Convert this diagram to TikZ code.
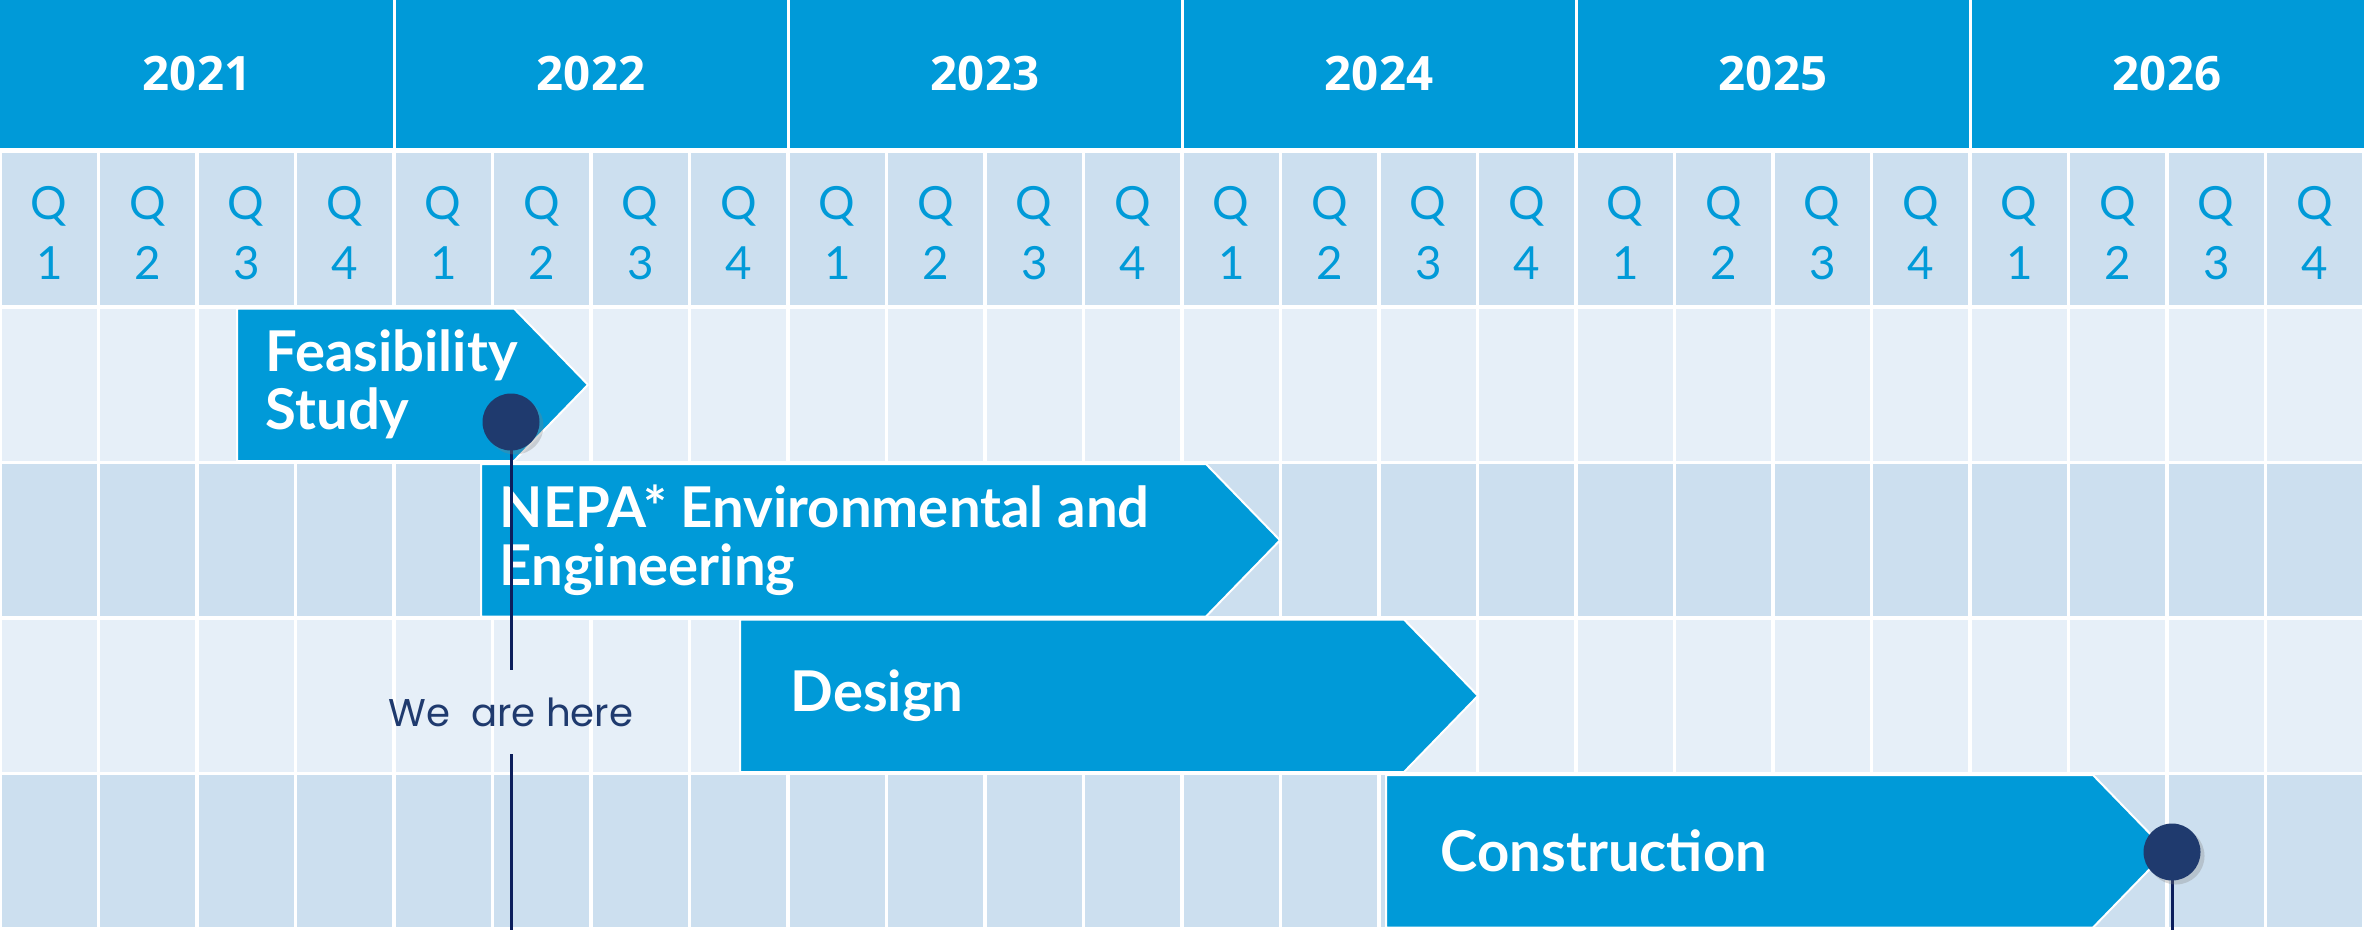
\documentclass[tikz,border=0pt]{standalone}
\usepackage{fontspec}
\setmainfont{Lato}
\newfontfamily\yearfont{Open Sans}
\newfontfamily\herefont{Poppins}
\usetikzlibrary{calc,shadows,positioning}

\definecolor{hdrblue}{RGB}{0,154,216}
\definecolor{qcell}{RGB}{204,223,239}
\definecolor{lightcell}{RGB}{230,239,248}
\definecolor{navy}{RGB}{31,58,110}
\definecolor{pinnavy}{RGB}{12,30,92}

\tikzset{
  cell/.style={draw=white,line width=0.035cm},
  bar/.style={fill=hdrblue,draw=white,line width=0.02cm},
  bartext/.style={text=white,anchor=west,align=left,inner sep=0pt,
    font=\fontsize{16}{16.5}\selectfont\bfseries},
  yeartext/.style={text=white,font=\yearfont\fontsize{13.5}{16}\selectfont\bfseries},
  qtext/.style={text=hdrblue,align=center,font=\fontsize{13}{17}\selectfont},
  pin/.style={circle,fill=navy,minimum size=0.57cm,inner sep=0pt,
    drop shadow={shadow xshift=0.04cm,shadow yshift=-0.04cm,opacity=0.3}},
  pinline/.style={draw=pinnavy,line width=0.03cm},
}

\begin{document}
\begin{tikzpicture}[line join=round]
\useasboundingbox (0,0) rectangle (23.64,-9.29);
\clip (0,0) rectangle (23.64,-9.29);
% year band
\fill[hdrblue] (0,0) rectangle (23.64,-1.48);
\foreach \y [count=\i from 0] in {2021,2022,2023,2024,2025,2026}{
  \node[yeartext] (y\y) at ({(\i+0.5)*3.94},-0.74) {\y};
  \ifnum\i>0 \draw[white,line width=0.03cm] (\i*3.94,0) -- (\i*3.94,-1.48); \fi
}
% quarter cells and rows
\foreach \q in {0,...,23}{
  \draw[cell,fill=qcell] (\q*0.985,-1.515) rectangle ++(0.985,-1.555);
  \pgfmathtruncatemacro{\n}{mod(\q,4)+1}
  \node[qtext] (q\q) at ({(\q+0.5)*0.985},-2.33) {Q\\\n};
  \foreach \r/\c in {1/lightcell,2/qcell,3/lightcell,4/qcell}
    \draw[cell,fill=\c] (\q*0.985,{-3.07-(\r-1)*1.555}) rectangle ++(0.985,-1.555);
}
% bars
\foreach \l/\e/\t/\r in {2.37/5.14/5.88/1,4.81/12.06/12.80/2,7.40/14.04/14.78/3,13.86/20.93/21.67/4}{
  \pgfmathsetmacro{\top}{-3.07-(\r-1)*1.555-0.015}
  \pgfmathsetmacro{\bot}{\top-1.525}
  \pgfmathsetmacro{\mid}{(\top+\bot)/2}
  \filldraw[bar] (\l,\top) -- (\e,\top) -- (\t,\mid) -- (\e,\bot) -- (\l,\bot) -- cycle;
}
\node[bartext] (feas) at (2.65,-3.8475) {Feasibility\\Study};
\node[bartext] (nepa) at (4.99,-5.4025) {NEPA* Environmental and\\Engineering};
\node[bartext] (design) at (7.90,-6.9575) {Design};
\node[bartext] (constr) at (14.40,-8.5125) {Construction};
% pins
\coordinate (pinA) at (5.11,-4.22);
\coordinate (endA) at (5.11,-9.4);
\coordinate (pinB) at (21.72,-8.52);
\coordinate (endB) at (21.72,-9.4);
\node[text=navy,inner sep=0pt,minimum height=0.83cm,font=\herefont\fontsize{11}{13}\selectfont] (here) at (5.11,-7.12) {We\ \ are here};
\draw[pinline] (pinA) -- (here) (here) -- (endA) (pinB) -- (endB);
\node[pin] (dotA) at (pinA) {};
\node[pin] (dotB) at (pinB) {};
\end{tikzpicture}
\end{document}
